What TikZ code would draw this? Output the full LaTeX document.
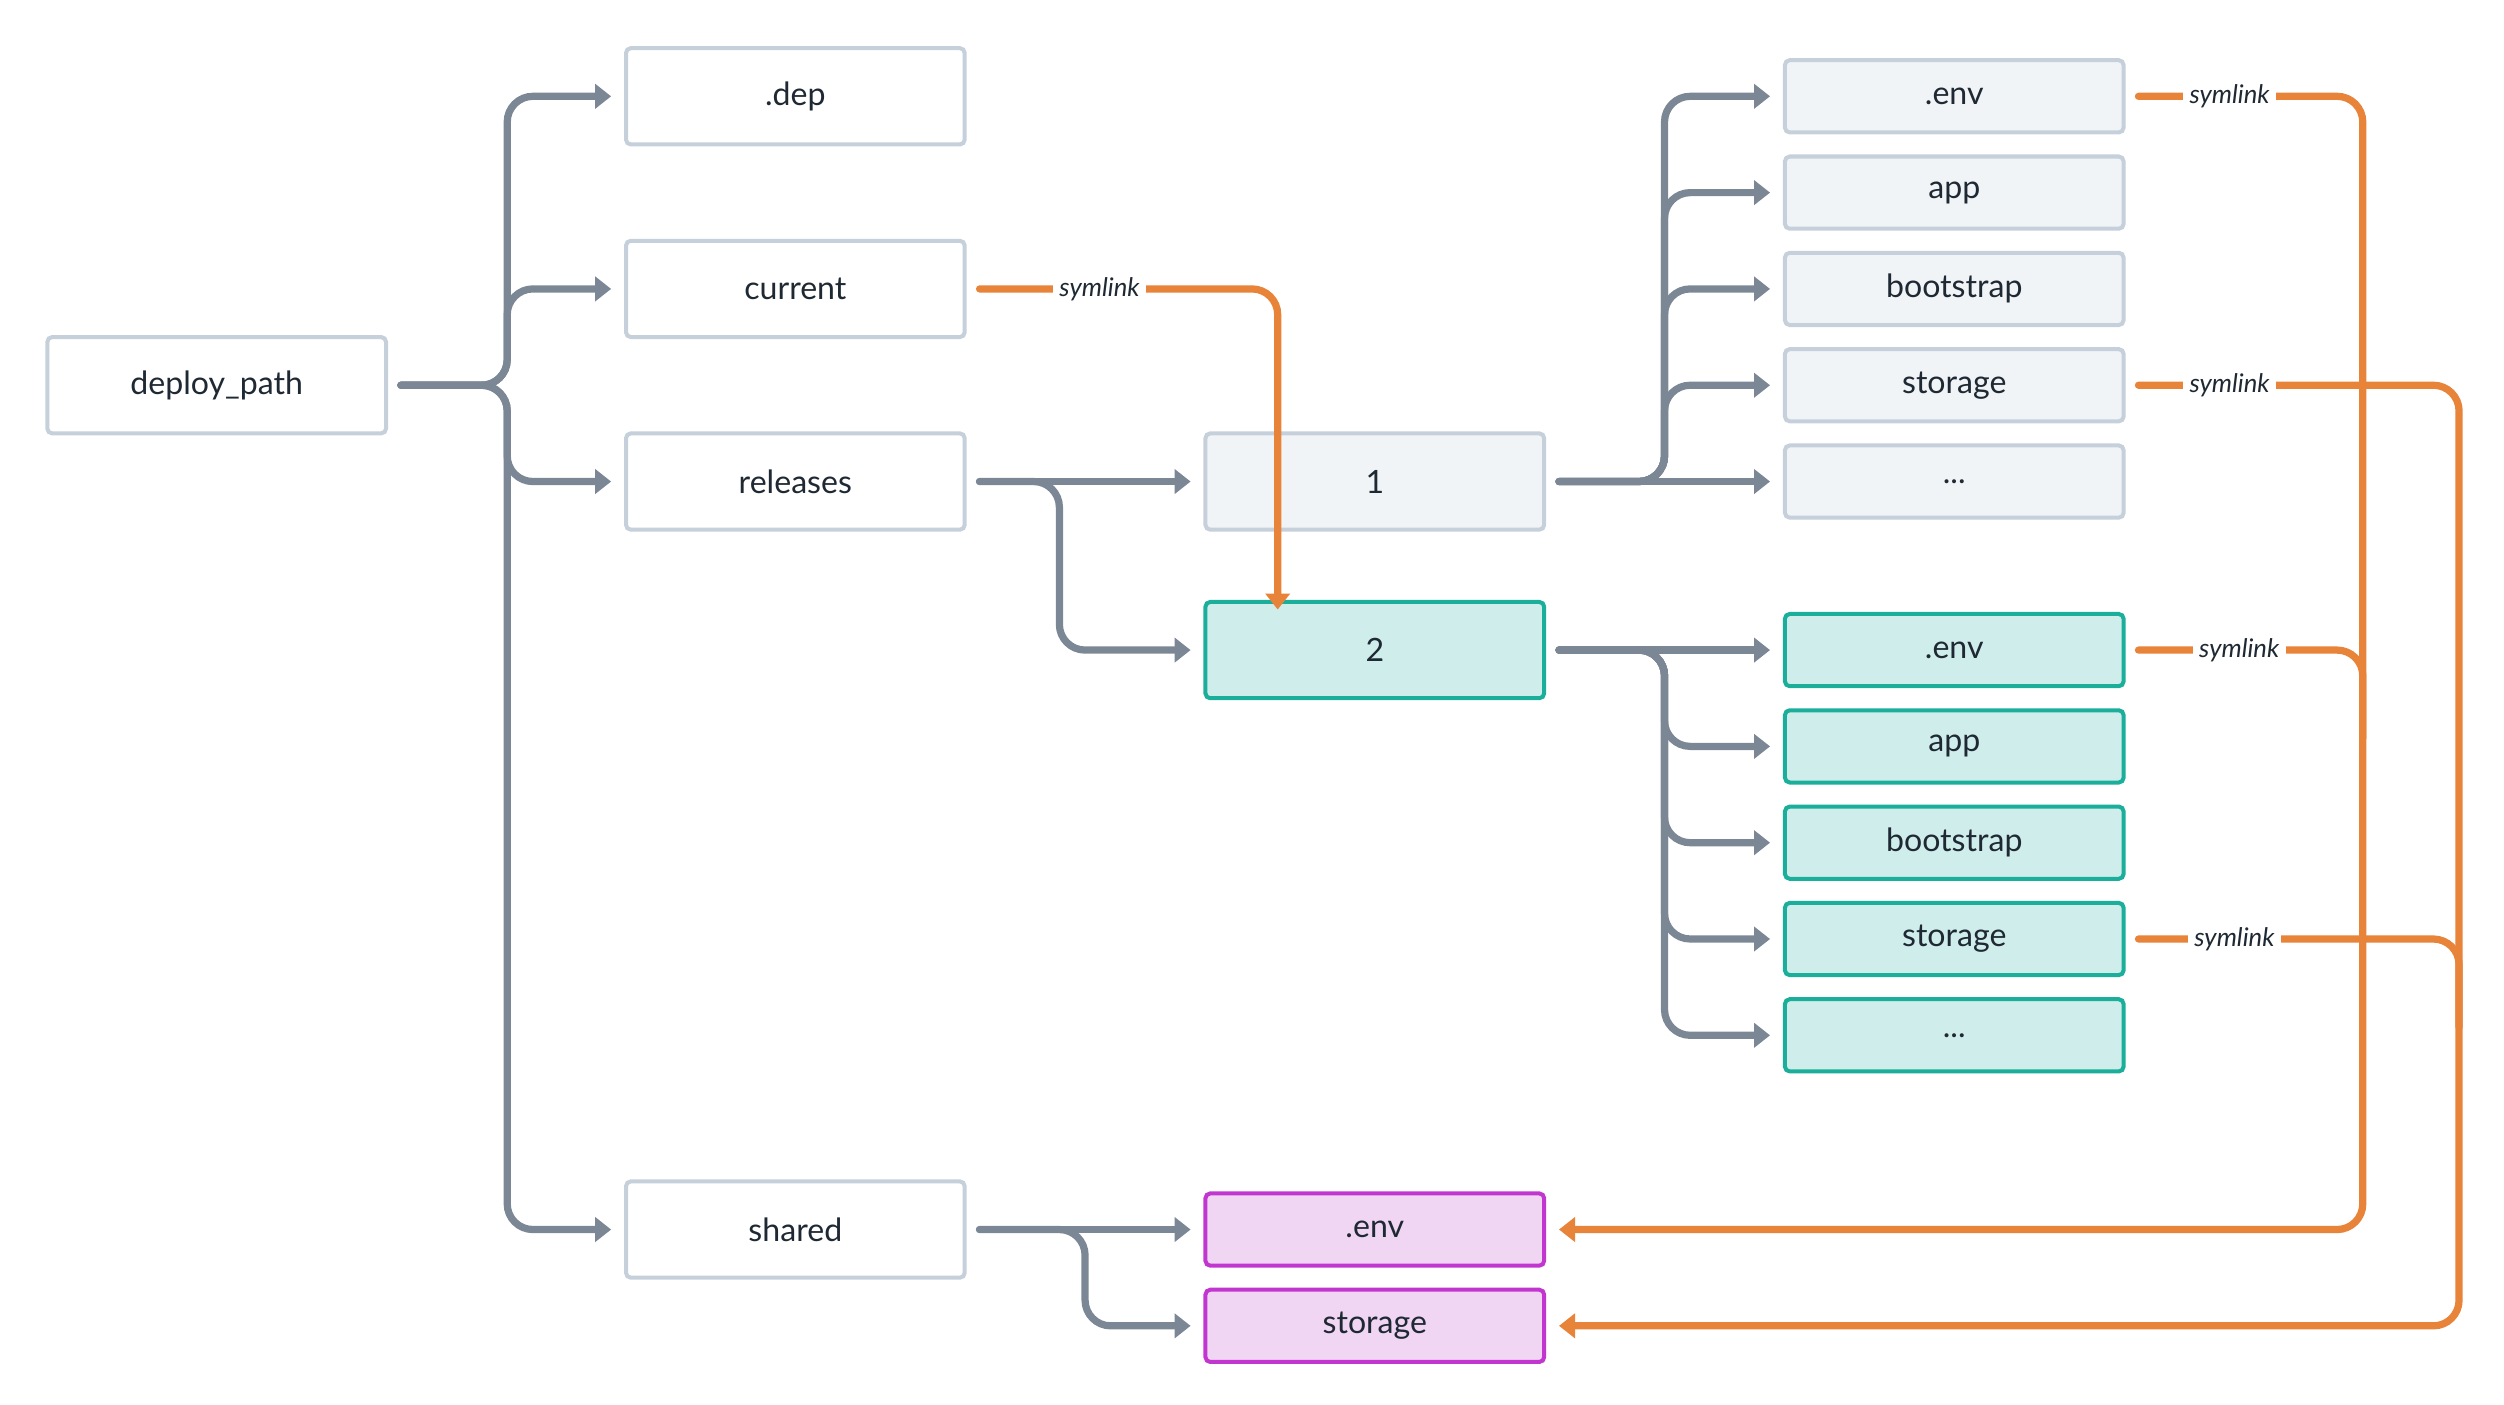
\documentclass[tikz,border=0pt]{standalone}
\usepackage{fontspec}
\setmainfont{Lato}
\usetikzlibrary{arrows.meta}
\definecolor{gb}{HTML}{C5D0DA}\definecolor{gf}{HTML}{F1F4F7}
\definecolor{tb}{HTML}{1AAE9B}\definecolor{tf}{HTML}{CFEDEB}
\definecolor{pb}{HTML}{C236D0}\definecolor{pf}{HTML}{F1D6F4}
\definecolor{cn}{HTML}{7B8794}\definecolor{og}{HTML}{E8833A}
\definecolor{tx}{HTML}{1F2933}
\tikzset{
 box/.style={draw=gb,line width=2.5pt,rounded corners=3pt,minimum width=211pt,text=tx,font=\fontsize{20}{24}\selectfont,inner sep=0pt},
 big/.style={box,minimum height=60pt,fill=white},
 gray/.style={box,minimum height=45pt,fill=gf},
 teal/.style={box,minimum height=45pt,fill=tf,draw=tb},
 purp/.style={box,minimum height=45pt,fill=pf,draw=pb},
 conn/.style={draw=cn,line width=4.5pt,line cap=round,rounded corners=16pt,-{Triangle[width=15pt,length=10pt]}},
 sym/.style={draw=og,line width=4.5pt,line cap=round,rounded corners=16pt},
 symt/.style={sym,-{Triangle[width=15pt,length=10pt]}},
 lab/.style={fill=white,inner sep=4pt,text=tx,font=\itshape\fontsize{16}{18}\selectfont}
}
\begin{document}
\begin{tikzpicture}[x=1pt,y=-1pt]
\useasboundingbox (0,0) rectangle (1560,875);
\node[big] (dp) at (135,240) {deploy\_path};
\node[big] (dep) at (495.5,60) {.dep};
\node[big] (cur) at (495.5,180) {current};
\node[big] (rel) at (495.5,300) {releases};
\node[big] (sh) at (495.5,766) {shared};
\node[big,fill=gf] (r1) at (856.5,300) {1};
\node[big,fill=tf,draw=tb] (r2) at (856.5,405) {2};
\node[purp] (se) at (856.5,766) {.env};
\node[purp] (ss) at (856.5,826) {storage};
\node[gray] (a1) at (1217.5,60) {.env};
\node[gray] (a2) at (1217.5,120) {app};
\node[gray] (a3) at (1217.5,180) {bootstrap};
\node[gray] (a4) at (1217.5,240) {storage};
\node[gray] (a5) at (1217.5,300) {...};
\node[teal] (b1) at (1217.5,405) {.env};
\node[teal] (b2) at (1217.5,465) {app};
\node[teal] (b3) at (1217.5,525) {bootstrap};
\node[teal] (b4) at (1217.5,585) {storage};
\node[teal] (b5) at (1217.5,645) {...};
% gray connectors
\foreach \c in {dep,cur,rel,sh}
  \draw[conn] ([xshift=8pt]dp.east) -- (316,240) |- ([xshift=-8pt]\c.west);
\draw[conn] ([xshift=8pt]rel.east) -- ([xshift=-8pt]r1.west);
\draw[conn] ([xshift=8pt]rel.east) -- (660,300) |- ([xshift=-8pt]r2.west);
\draw[conn] ([xshift=8pt]sh.east) -- ([xshift=-8pt]se.west);
\draw[conn] ([xshift=8pt]sh.east) -- (676,766) |- ([xshift=-8pt]ss.west);
\foreach \c in {a1,a2,a3,a4}
  \draw[conn] ([xshift=8pt]r1.east) -- (1037,300) |- ([xshift=-8pt]\c.west);
\draw[conn] ([xshift=8pt]r1.east) -- ([xshift=-8pt]a5.west);
\foreach \c in {b2,b3,b4,b5}
  \draw[conn] ([xshift=8pt]r2.east) -- (1037,405) |- ([xshift=-8pt]\c.west);
\draw[conn] ([xshift=8pt]r2.east) -- ([xshift=-8pt]b1.west);
% symlinks
\draw[symt] ([xshift=8pt]cur.east) -- (796,180) -- ([yshift=-6pt]r2.north -| 796,0);
\node[lab] (l0) at (685,180) {symlink};
\draw[symt] ([xshift=8pt]a1.east) -- (1472,60) |- ([xshift=8pt]se.east);
\draw[symt] ([xshift=8pt]a4.east) -- (1532,240) |- ([xshift=8pt]ss.east);
\draw[sym] ([xshift=8pt]b1.east) -- (1472,405) -- (1472,460);
\draw[sym] ([xshift=8pt]b4.east) -- (1532,585) -- (1532,640);
\node[lab] (l1) at (1389,60) {symlink};
\node[lab] (l2) at (1389,240) {symlink};
\node[lab] (l3) at (1395,405) {symlink};
\node[lab] (l4) at (1392,585) {symlink};
\end{tikzpicture}
\end{document}
